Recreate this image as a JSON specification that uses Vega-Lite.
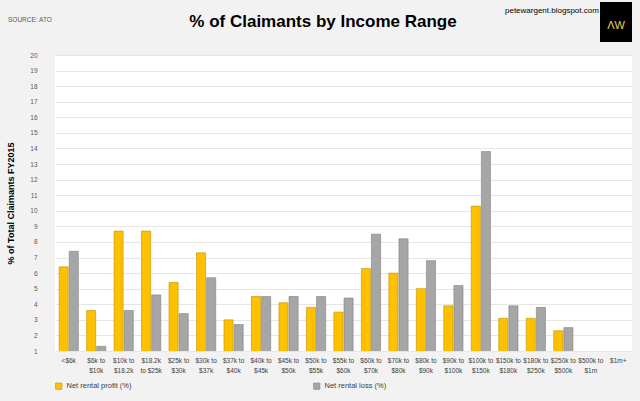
{
  "$schema": "https://vega.github.io/schema/vega-lite/v6.json",
  "width": 577,
  "height": 296,
  "autosize": {"type": "none"},
  "padding": {"left": 55, "top": 55, "right": 8, "bottom": 50},
  "background": "#f2f2f2",
  "config": {
    "font": "Liberation Sans",
    "view": {"fill": "white", "stroke": null}
  },
  "data": {
    "values": [
      {"range": "<$6k", "series": "Net rental profit (%)", "pct": 6.4},
      {"range": "<$6k", "series": "Net rental loss (%)", "pct": 7.4},
      {"range": "$6k to|$10k", "series": "Net rental profit (%)", "pct": 3.6},
      {"range": "$6k to|$10k", "series": "Net rental loss (%)", "pct": 1.3},
      {"range": "$10k to|$18.2k", "series": "Net rental profit (%)", "pct": 8.7},
      {"range": "$10k to|$18.2k", "series": "Net rental loss (%)", "pct": 3.6},
      {"range": "$18.2k|to $25k", "series": "Net rental profit (%)", "pct": 8.7},
      {"range": "$18.2k|to $25k", "series": "Net rental loss (%)", "pct": 4.6},
      {"range": "$25k to|$30k", "series": "Net rental profit (%)", "pct": 5.4},
      {"range": "$25k to|$30k", "series": "Net rental loss (%)", "pct": 3.4},
      {"range": "$30k to|$37k", "series": "Net rental profit (%)", "pct": 7.3},
      {"range": "$30k to|$37k", "series": "Net rental loss (%)", "pct": 5.7},
      {"range": "$37k to|$40k", "series": "Net rental profit (%)", "pct": 3.0},
      {"range": "$37k to|$40k", "series": "Net rental loss (%)", "pct": 2.7},
      {"range": "$40k to|$45k", "series": "Net rental profit (%)", "pct": 4.5},
      {"range": "$40k to|$45k", "series": "Net rental loss (%)", "pct": 4.5},
      {"range": "$45k to|$50k", "series": "Net rental profit (%)", "pct": 4.1},
      {"range": "$45k to|$50k", "series": "Net rental loss (%)", "pct": 4.5},
      {"range": "$50k to|$55k", "series": "Net rental profit (%)", "pct": 3.8},
      {"range": "$50k to|$55k", "series": "Net rental loss (%)", "pct": 4.5},
      {"range": "$55k to|$60k", "series": "Net rental profit (%)", "pct": 3.5},
      {"range": "$55k to|$60k", "series": "Net rental loss (%)", "pct": 4.4},
      {"range": "$60k to|$70k", "series": "Net rental profit (%)", "pct": 6.3},
      {"range": "$60k to|$70k", "series": "Net rental loss (%)", "pct": 8.5},
      {"range": "$70k to|$80k", "series": "Net rental profit (%)", "pct": 6.0},
      {"range": "$70k to|$80k", "series": "Net rental loss (%)", "pct": 8.2},
      {"range": "$80k to|$90k", "series": "Net rental profit (%)", "pct": 5.0},
      {"range": "$80k to|$90k", "series": "Net rental loss (%)", "pct": 6.8},
      {"range": "$90k to|$100k", "series": "Net rental profit (%)", "pct": 3.9},
      {"range": "$90k to|$100k", "series": "Net rental loss (%)", "pct": 5.2},
      {"range": "$100k to|$150k", "series": "Net rental profit (%)", "pct": 10.3},
      {"range": "$100k to|$150k", "series": "Net rental loss (%)", "pct": 13.8},
      {"range": "$150k to|$180k", "series": "Net rental profit (%)", "pct": 3.1},
      {"range": "$150k to|$180k", "series": "Net rental loss (%)", "pct": 3.9},
      {"range": "$180k to|$250k", "series": "Net rental profit (%)", "pct": 3.1},
      {"range": "$180k to|$250k", "series": "Net rental loss (%)", "pct": 3.8},
      {"range": "$250k to|$500k", "series": "Net rental profit (%)", "pct": 2.3},
      {"range": "$250k to|$500k", "series": "Net rental loss (%)", "pct": 2.5},
      {"range": "$500k to|$1m", "series": "Net rental profit (%)", "pct": 0.5},
      {"range": "$500k to|$1m", "series": "Net rental loss (%)", "pct": 0.5},
      {"range": "$1m+", "series": "Net rental profit (%)", "pct": 0.2},
      {"range": "$1m+", "series": "Net rental loss (%)", "pct": 0.1}
    ]
  },
  "layer": [
    {
      "mark": {"type": "bar", "clip": true, "strokeWidth": 0.6},
      "encoding": {
        "x": {
          "field": "range", "type": "nominal", "sort": null, "title": null,
          "scale": {"paddingInner": 0.3, "paddingOuter": 0.15},
          "axis": {"labelExpr": "split(datum.label, '|')", "labelAngle": 0, "labelFontSize": 6.5, "labelColor": "#404040", "domain": false, "ticks": false, "labelPadding": 6, "labelLineHeight": 10, "labelOverlap": false}
        },
        "xOffset": {"field": "series", "sort": null, "scale": {"paddingInner": 0.1}},
        "y": {
          "field": "pct", "type": "quantitative",
          "scale": {"domain": [1, 20], "zero": false, "nice": false},
          "title": "% of Total Claimants FY2015",
          "axis": {"values": [1,2,3,4,5,6,7,8,9,10,11,12,13,14,15,16,17,18,19,20], "labelFontSize": 6.5, "labelColor": "#595959", "gridColor": "#e6e6e6", "domain": false, "ticks": false, "labelPadding": 18, "titleFontSize": 9, "titleFontWeight": "bold", "titleColor": "#000000", "titlePadding": 14}
        },
        "color": {
          "field": "series", "type": "nominal", "sort": null,
          "scale": {"range": ["#ffc000", "#a6a6a6"]},
          "legend": {"title": null, "orient": "bottom", "direction": "horizontal", "symbolType": "square", "symbolSize": 40, "labelFontSize": 7.5, "labelColor": "#404040", "columnPadding": 180, "offset": 8, "symbolStrokeWidth": 0.6}
        },
        "stroke": {
          "field": "series", "type": "nominal", "sort": null,
          "scale": {"range": ["#bf9000", "#7f7f7f"]},
          "legend": null
        }
      }
    },
    {
      "data": {"values": [{"t": "% of Claimants by Income Range"}]},
      "mark": {"type": "text", "fontSize": 17, "fontWeight": "bold", "color": "#000000", "align": "center"},
      "encoding": {"text": {"field": "t"}, "x": {"value": 268}, "y": {"value": -33}}
    },
    {
      "data": {"values": [{"t": "SOURCE: ATO"}]},
      "mark": {"type": "text", "fontSize": 6.5, "color": "#595959", "align": "left"},
      "encoding": {"text": {"field": "t"}, "x": {"value": -47}, "y": {"value": -35}}
    },
    {
      "data": {"values": [{"t": "petewargent.blogspot.com"}]},
      "mark": {"type": "text", "fontSize": 8, "color": "#000000", "align": "left"},
      "encoding": {"text": {"field": "t"}, "x": {"value": 450}, "y": {"value": -44}}
    },
    {
      "data": {"values": [{"t": "box"}]},
      "mark": {"type": "rect", "color": "#000000"},
      "encoding": {"x": {"value": 545}, "x2": {"value": 577}, "y": {"value": -53}, "y2": {"value": -13}}
    },
    {
      "data": {"values": [{"t": "ΛW"}]},
      "mark": {"type": "text", "fontSize": 11, "color": "#e8d44d", "align": "center"},
      "encoding": {"text": {"field": "t"}, "x": {"value": 561}, "y": {"value": -29}}
    }
  ]
}
